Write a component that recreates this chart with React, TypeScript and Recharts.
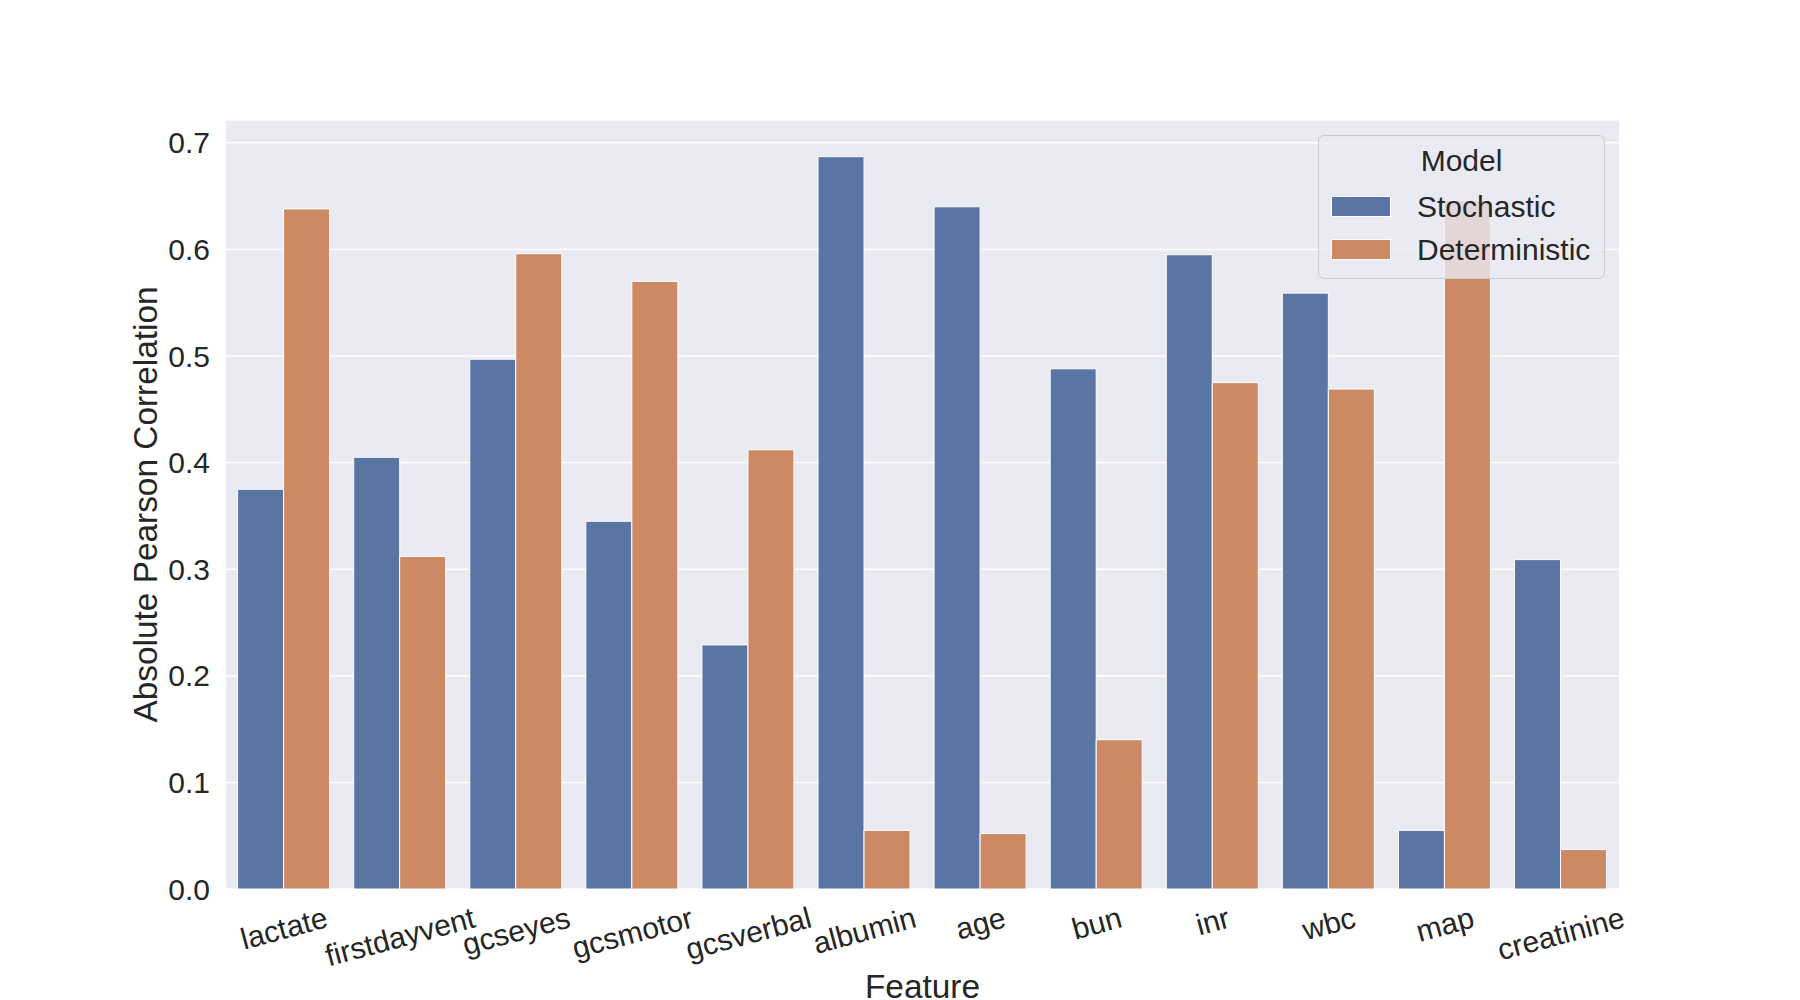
import React from "react";
import {
  BarChart,
  Bar,
  XAxis,
  YAxis,
  CartesianGrid,
  Legend,
} from "recharts";

const FEATURES = [
  "lactate",
  "firstdayvent",
  "gcseyes",
  "gcsmotor",
  "gcsverbal",
  "albumin",
  "age",
  "bun",
  "inr",
  "wbc",
  "map",
  "creatinine",
];
const STOCHASTIC = [0.375, 0.405, 0.497, 0.345, 0.229, 0.687, 0.64, 0.488, 0.595, 0.559, 0.055, 0.309];
const DETERMINISTIC = [0.638, 0.312, 0.596, 0.57, 0.412, 0.055, 0.052, 0.14, 0.475, 0.469, 0.646, 0.037];
const Y_TICKS = [0, 0.1, 0.2, 0.3, 0.4, 0.5, 0.6, 0.7];
const SERIES = ["Stochastic", "Deterministic"];

const COLORS = ["#5975a4", "#cc8963"];
const FONT = "'Liberation Sans', Arial, sans-serif";
const FONT_SIZE = 30;
const LABEL_SIZE = 33.4;
const TEXT = "#262626";

const data = FEATURES.map((feature, i) => ({
  feature,
  Stochastic: STOCHASTIC[i],
  Deterministic: DETERMINISTIC[i],
}));

let ctx: CanvasRenderingContext2D | null = null;
function textWidth(s: string) {
  if (!ctx) ctx = document.createElement("canvas").getContext("2d");
  if (!ctx) return s.length * FONT_SIZE * 0.5;
  ctx.font = `${FONT_SIZE}px ${FONT}`;
  return ctx.measureText(s).width;
}

// rotated tick label, like matplotlib rotation=15 with centered bbox
function FeatureTick(props: any) {
  const { x, y, payload } = props;
  const label = payload.value;
  const a = (15 * Math.PI) / 180;
  const w = textWidth(label);
  const h = FONT_SIZE * 1.15;
  const cy = y + (w * Math.sin(a) + h * Math.cos(a)) / 2;
  return (
    <text
      x={x}
      y={cy}
      textAnchor="middle"
      dominantBaseline="central"
      transform={`rotate(-15 ${x} ${cy})`}
      fill={TEXT}
      fontSize={FONT_SIZE}
      fontFamily={FONT}
    >
      {label}
    </text>
  );
}

function YLabel(props: any) {
  const { viewBox } = props;
  const cx = 145;
  const cy = viewBox.y + viewBox.height / 2;
  return (
    <text
      x={cx}
      y={cy}
      textAnchor="middle"
      dominantBaseline="central"
      transform={`rotate(-90 ${cx} ${cy})`}
      fill={TEXT}
      fontSize={LABEL_SIZE}
      fontFamily={FONT}
    >
      Absolute Pearson Correlation
    </text>
  );
}

function XLabel(props: any) {
  const { viewBox } = props;
  return (
    <text
      x={viewBox.x + viewBox.width / 2}
      y={998}
      textAnchor="middle"
      fill={TEXT}
      fontSize={LABEL_SIZE}
      fontFamily={FONT}
    >
      Feature
    </text>
  );
}

function ModelLegend() {
  return (
    <div
      style={{
        position: "relative",
        width: 287,
        height: 144,
        boxSizing: "border-box",
        border: "1px solid #cccccc",
        borderRadius: 6,
        background: "rgba(234,234,242,0.8)",
        fontFamily: FONT,
        fontSize: FONT_SIZE,
        color: TEXT,
        lineHeight: 1,
      }}
    >
      <div style={{ position: "absolute", left: 0, width: "100%", top: 10, textAlign: "center" }}>
        Model
      </div>
      {SERIES.map((name, i) => (
        <React.Fragment key={name}>
          <div
            style={{
              position: "absolute",
              left: 12,
              top: 60 + i * 43,
              width: 60,
              height: 21,
              background: COLORS[i],
              border: "1px solid #fff",
              boxSizing: "border-box",
            }}
          />
          <div style={{ position: "absolute", left: 98, top: 56 + i * 43 }}>{name}</div>
        </React.Fragment>
      ))}
    </div>
  );
}

export default function App() {
  return (
    <div
      style={{
        position: "absolute",
        left: 0,
        top: 0,
        width: 1800,
        height: 1000,
        background: "#fff",
        fontFamily: FONT,
      }}
    >
      <BarChart
        width={1800}
        height={1000}
        data={data}
        margin={{ top: 120, right: 181, left: 0, bottom: 0 }}
        barCategoryGap="10%"
        barGap={0}
      >
        <CartesianGrid vertical={false} stroke="#ffffff" strokeWidth={1.5} fill="#eaeaf2" />
        <XAxis
          dataKey="feature"
          height={111}
          axisLine={false}
          tickLine={false}
          tickSize={0}
          tickMargin={11}
          interval={0}
          tick={<FeatureTick />}
          label={<XLabel />}
        />
        <YAxis
          width={226}
          domain={[0, 0.7214]}
          ticks={Y_TICKS}
          axisLine={false}
          tickLine={false}
          tickSize={0}
          tickMargin={16}
          tickFormatter={(v: number) => v.toFixed(1)}
          tick={{ fill: TEXT, fontSize: FONT_SIZE, fontFamily: FONT }}
          label={<YLabel />}
        />
        {SERIES.map((name, i) => (
          <Bar
            key={name}
            dataKey={name}
            fill={COLORS[i]}
            stroke="#ffffff"
            strokeWidth={1}
            isAnimationActive={false}
          />
        ))}
        <Legend
          layout="vertical"
          align="center"
          verticalAlign="middle"
          content={<ModelLegend />}
          wrapperStyle={{ left: 1318, top: 135, width: 287, height: 144, right: "auto", bottom: "auto" }}
        />
      </BarChart>
    </div>
  );
}
